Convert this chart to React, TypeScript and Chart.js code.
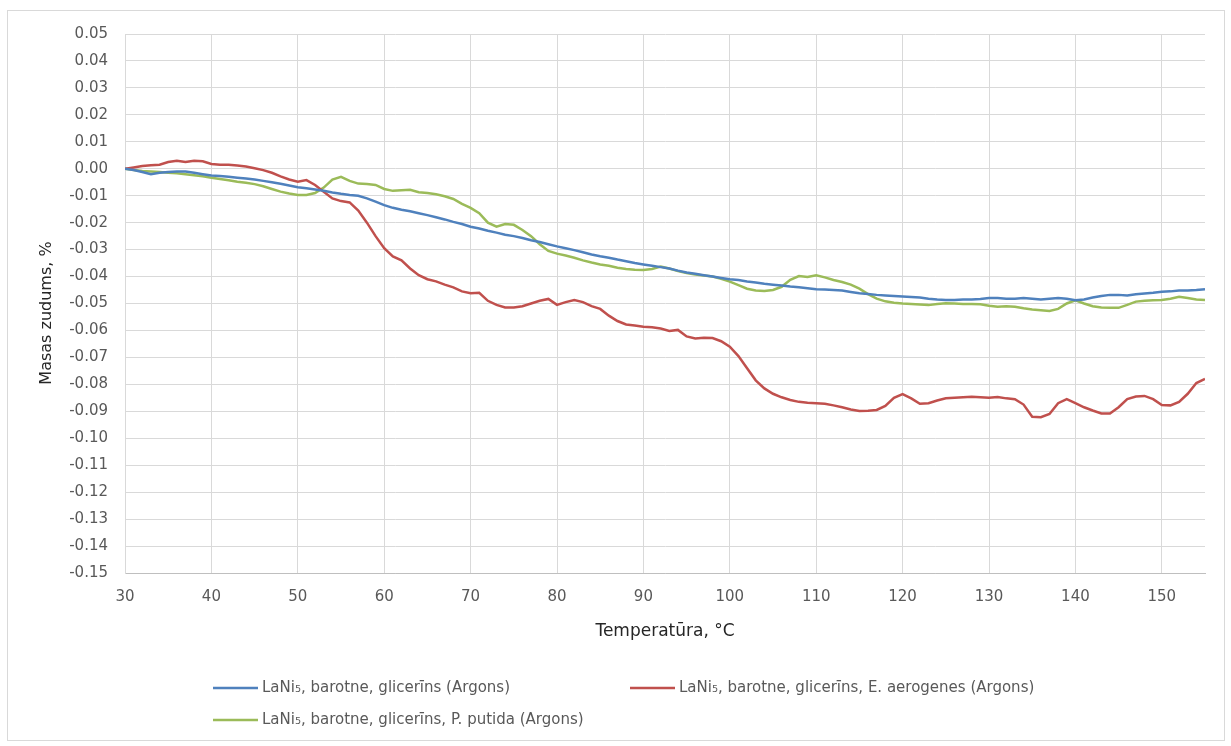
import React, { useEffect, useRef } from "react";
import { Chart, registerables } from "chart.js";

Chart.register(...registerables);

// Sample temperatures, °C
const temps = [
  30, 31, 32, 33, 34, 35, 36, 37, 38, 39, 40, 41, 42, 43, 44, 45, 46, 47, 48, 49,
  50, 51, 52, 53, 54, 55, 56, 57, 58, 59, 60, 61, 62, 63, 64, 65, 66, 67, 68, 69,
  70, 71, 72, 73, 74, 75, 76, 77, 78, 79, 80, 81, 82, 83, 84, 85, 86, 87, 88, 89,
  90, 91, 92, 93, 94, 95, 96, 97, 98, 99, 100, 101, 102, 103, 104, 105, 106, 107, 108, 109,
  110, 111, 112, 113, 114, 115, 116, 117, 118, 119, 120, 121, 122, 123, 124, 125, 126, 127, 128, 129,
  130, 131, 132, 133, 134, 135, 136, 137, 138, 139, 140, 141, 142, 143, 144, 145, 146, 147, 148, 149,
  150, 151, 152, 153, 154, 155,
];

// LaNi5, barotne, glicerīns (Argons)
const massLossBase = [
  0, -0.0005, -0.0012, -0.002, -0.0015, -0.0012, -0.001, -0.001, -0.0015, -0.002,
  -0.0025, -0.0027, -0.003, -0.0033, -0.0036, -0.004, -0.0045, -0.005, -0.0056, -0.0062,
  -0.0069, -0.0072, -0.0077, -0.0082, -0.0088, -0.0093, -0.0097, -0.01, -0.011, -0.0122,
  -0.0135, -0.0145, -0.0152, -0.0158, -0.0165, -0.0172, -0.018, -0.0188, -0.0197, -0.0205,
  -0.0215, -0.0222, -0.023, -0.0237, -0.0245, -0.025, -0.0257, -0.0265, -0.0272, -0.028,
  -0.0288, -0.0295, -0.0302, -0.031, -0.0318, -0.0325, -0.033, -0.0337, -0.0343, -0.035,
  -0.0355, -0.036, -0.0365, -0.037, -0.0378, -0.0385, -0.039, -0.0395, -0.04, -0.0405,
  -0.041, -0.0413, -0.0418, -0.0422, -0.0427, -0.043, -0.0433, -0.0437, -0.044, -0.0443,
  -0.0447, -0.0448, -0.045, -0.0452, -0.0457, -0.0462, -0.0465, -0.0468, -0.047, -0.0472,
  -0.0474, -0.0476, -0.0478, -0.0482, -0.0485, -0.0487, -0.0487, -0.0485, -0.0485, -0.0483,
  -0.048, -0.048, -0.0482, -0.0482, -0.048, -0.0482, -0.0485, -0.0482, -0.048, -0.0482,
  -0.0488, -0.0485, -0.0478, -0.0472, -0.0468, -0.0468, -0.047, -0.0466, -0.0463, -0.046,
  -0.0456, -0.0455, -0.0452, -0.0452, -0.045, -0.0447,
];

// LaNi5, barotne, glicerīns, E. aerogenes (Argons)
const massLossAerogenes = [
  0, 0.0005, 0.001, 0.0013, 0.0015, 0.0025, 0.003, 0.0025, 0.003, 0.0028,
  0.0018, 0.0015, 0.0015, 0.0012, 0.0008, 0.0002, -0.0005, -0.0015, -0.0028, -0.004,
  -0.0048, -0.0042, -0.006, -0.0085, -0.011, -0.012, -0.0125, -0.0155, -0.02, -0.025,
  -0.0295, -0.0325, -0.034, -0.037, -0.0395, -0.041, -0.0418, -0.043, -0.044, -0.0455,
  -0.0462, -0.046, -0.049, -0.0505, -0.0515, -0.0515, -0.051, -0.05, -0.049, -0.0483,
  -0.0505, -0.0495, -0.0487, -0.0495, -0.051, -0.052, -0.0545, -0.0565, -0.0578, -0.0582,
  -0.0586, -0.0588, -0.0593, -0.0602, -0.0598, -0.0622, -0.063, -0.0627, -0.0628, -0.064,
  -0.066, -0.0695, -0.074, -0.0785, -0.0815, -0.0835, -0.0848, -0.0858, -0.0865, -0.0868,
  -0.087, -0.0872, -0.0878, -0.0885, -0.0893, -0.0899, -0.0898, -0.0895, -0.088, -0.085,
  -0.0836, -0.0852, -0.0872, -0.087, -0.086, -0.0852, -0.085, -0.0848, -0.0846, -0.0848,
  -0.085, -0.0847, -0.0852, -0.0855, -0.0875, -0.092, -0.0922, -0.091, -0.087, -0.0855,
  -0.087, -0.0885, -0.0897, -0.0908, -0.0908, -0.0885, -0.0855, -0.0845, -0.0843, -0.0855,
  -0.0877, -0.0878, -0.0865, -0.0835, -0.0795, -0.078,
];

// LaNi5, barotne, glicerīns, P. putida (Argons)
const massLossPutida = [
  0, -0.0005, -0.0008, -0.001, -0.0012, -0.0015, -0.0017, -0.002, -0.0024, -0.0028,
  -0.0033, -0.0038, -0.0043, -0.0048, -0.0052, -0.0057, -0.0065, -0.0075, -0.0085, -0.0092,
  -0.0097, -0.0097, -0.009, -0.007, -0.004, -0.003, -0.0045, -0.0055, -0.0057, -0.006,
  -0.0075, -0.0082, -0.008, -0.0078, -0.0087, -0.009, -0.0095, -0.0102, -0.0112, -0.013,
  -0.0145, -0.0165, -0.02, -0.0215, -0.0205, -0.0208, -0.0227, -0.025, -0.028, -0.0305,
  -0.0315, -0.0322, -0.033, -0.034, -0.0348, -0.0355, -0.036, -0.0367, -0.0372, -0.0375,
  -0.0376, -0.0372, -0.0363, -0.037, -0.038, -0.0387, -0.0392, -0.0396, -0.04, -0.0408,
  -0.0419, -0.0432, -0.0445, -0.0452, -0.0454, -0.045, -0.0438, -0.0412, -0.0398, -0.0402,
  -0.0395, -0.0403, -0.0413, -0.042, -0.043, -0.0445, -0.0465, -0.0482, -0.0492, -0.0497,
  -0.05, -0.0502, -0.0504, -0.0506, -0.0502, -0.0499, -0.05, -0.0502, -0.0502, -0.0503,
  -0.0508, -0.0512, -0.051, -0.0512, -0.0518, -0.0522, -0.0525, -0.0528, -0.052, -0.05,
  -0.0488, -0.05, -0.051, -0.0515, -0.0516, -0.0516, -0.0505, -0.0493, -0.049, -0.0488,
  -0.0487, -0.0482, -0.0475, -0.048, -0.0485, -0.0487,
];

const seriesLabels = [
  "LaNi₅, barotne, glicerīns (Argons)",
  "LaNi₅, barotne, glicerīns, E. aerogenes (Argons)",
  "LaNi₅, barotne, glicerīns, P. putida (Argons)",
];
const seriesColors = ["#4F81BD", "#C0504D", "#9BBB59"];

const yTitle = "Masas zudums, %";
const xTitle = "Temperatūra, °C";

const FONT = "'DejaVu Sans', 'Liberation Sans', sans-serif";
const TEXT = "#595959";
const TITLE = "#262626";

const toPoints = (ys: number[]) => temps.map((t, i) => ({ x: t, y: ys[i] }));

// Frame around the whole chart, the vertical axis title and the two-column legend.
const framePlugin = {
  id: "frameAndLegend",
  afterDraw(chart: Chart) {
    const ctx = chart.ctx;
    ctx.save();
    ctx.strokeStyle = "#d9d9d9";
    ctx.lineWidth = 1;
    ctx.strokeRect(7.5, 10.5, 1217, 730);

    // vertical axis title
    ctx.save();
    ctx.translate(47, 313);
    ctx.rotate(-Math.PI / 2);
    ctx.font = `16px ${FONT}`;
    ctx.fillStyle = TITLE;
    ctx.textAlign = "center";
    ctx.textBaseline = "middle";
    ctx.fillText(yTitle, 0, 0);
    ctx.restore();

    const items = [
      { x: 213, y: 688 },
      { x: 630, y: 688 },
      { x: 213, y: 720 },
    ];
    ctx.font = `15px ${FONT}`;
    ctx.textBaseline = "middle";
    ctx.textAlign = "left";
    items.forEach((p, i) => {
      ctx.strokeStyle = seriesColors[i];
      ctx.lineWidth = 2.5;
      ctx.beginPath();
      ctx.moveTo(p.x, p.y);
      ctx.lineTo(p.x + 45, p.y);
      ctx.stroke();
      ctx.fillStyle = TEXT;
      ctx.fillText(seriesLabels[i], p.x + 49, p.y);
    });
    ctx.restore();
  },
};

export default function App() {
  const canvasRef = useRef<HTMLCanvasElement | null>(null);

  useEffect(() => {
    const canvas = canvasRef.current;
    if (!canvas) return;
    const chart = new Chart(canvas, {
      type: "line",
      data: {
        datasets: [massLossBase, massLossAerogenes, massLossPutida].map((ys, i) => ({
          label: seriesLabels[i],
          data: toPoints(ys),
          borderColor: seriesColors[i],
          backgroundColor: seriesColors[i],
          borderWidth: 2.5,
          pointRadius: 0,
          tension: 0,
          fill: false,
        })),
      },
      options: {
        responsive: false,
        animation: false,
        events: [],
        layout: { padding: { left: 0, top: 34, right: 26, bottom: 100 } },
        plugins: {
          legend: { display: false },
          title: { display: false },
          tooltip: { enabled: false },
        },
        scales: {
          x: {
            type: "linear",
            min: 30,
            max: 155,
            ticks: {
              stepSize: 10,
              includeBounds: false,
              padding: 15,
              color: TEXT,
              font: { family: FONT, size: 15 },
              maxRotation: 0,
            },
            grid: { color: "#d9d9d9", lineWidth: 1, drawTicks: false },
            border: { display: true, color: "#bfbfbf", width: 1 },
            title: {
              display: true,
              text: xTitle,
              color: TITLE,
              font: { family: FONT, size: 17 },
              padding: { top: 0, bottom: 4 },
            },
            afterFit(scale: any) {
              scale.height = 73;
            },
          },
          y: {
            type: "linear",
            min: -0.15,
            max: 0.05,
            ticks: {
              stepSize: 0.01,
              padding: 17,
              color: TEXT,
              font: { family: FONT, size: 15 },
              callback: (v: any) => {
                const n = Number(v);
                return Math.abs(n) < 1e-9 ? "0.00" : n.toFixed(2);
              },
            },
            grid: { color: "#d9d9d9", lineWidth: 1, drawTicks: false },
            border: { display: true, color: "#d9d9d9", width: 1 },
            title: { display: false },
            afterFit(scale: any) {
              scale.width = 125;
            },
          },
        },
      },
      plugins: [framePlugin],
    });
    return () => chart.destroy();
  }, []);

  return (
    <div style={{ position: "fixed", left: 0, top: 0, width: 1231, height: 746, background: "#ffffff" }}>
      <canvas ref={canvasRef} width={1231} height={746} style={{ display: "block" }} />
    </div>
  );
}
